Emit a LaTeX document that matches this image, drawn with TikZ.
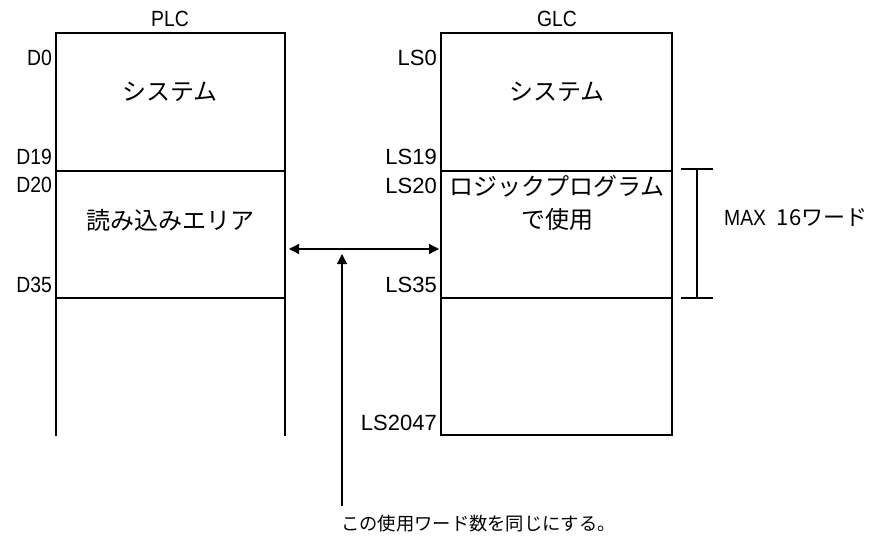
\documentclass[tikz,border=0pt]{standalone}
\usepackage{fontspec}
\setmainfont{Liberation Sans}
\newfontfamily\jp{Noto Sans CJK JP}
\newfontfamily\narrow[FakeStretch=0.88]{Liberation Sans}
\usetikzlibrary{arrows.meta}
\begin{document}
\begin{tikzpicture}[x=1pt,y=-1pt,
  box/.style={line width=2.4pt},
  lbl/.style={font=\narrow\fontsize{22}{22}\selectfont, inner sep=0pt},
  addr/.style={lbl, anchor=east},
  laddr/.style={addr, font=\fontsize{22}{22}\selectfont},
  jtxt/.style={font=\jp\fontsize{24}{33}\selectfont, inner sep=0pt, align=center},
  tip/.style={Triangle[length=10pt,width=10pt]},
  conn/.style={line width=1.3pt, -{Triangle[length=10pt,width=10pt]}},
  ]
\useasboundingbox (0,0) rectangle (878,541);
% PLC column
\coordinate (p1) at (56,436);
\coordinate (p2) at (56,33);
\coordinate (p3) at (285,33);
\coordinate (p4) at (285,436);
\draw[box] (p1) -- (p2) -- (p3) -- (p4);
\coordinate (pa) at (56,171); \coordinate (pb) at (285,171);
\coordinate (pc) at (56,298); \coordinate (pd) at (285,298);
\draw[box] (pa) -- (pb);
\draw[box] (pc) -- (pd);
% GLC column
\coordinate (g1) at (441,33);
\coordinate (g2) at (672,33);
\coordinate (g3) at (672,435);
\coordinate (g4) at (441,435);
\draw[box] (g1) -- (g2) -- (g3) -- (g4) -- cycle;
\coordinate (ga) at (441,171); \coordinate (gb) at (672,171);
\coordinate (gc) at (441,298); \coordinate (gd) at (672,298);
\draw[box] (ga) -- (gb);
\draw[box] (gc) -- (gd);
% titles
\node[lbl] (plc) at (170,19) {PLC};
\node[lbl] (glc) at (557,19) {GLC};
% addresses
\node[addr] (d0) at (52,58) {D0};
\node[addr] (d19) at (52,157) {D19};
\node[addr] (d20) at (52,185) {D20};
\node[addr] (d35) at (52,285) {D35};
\node[laddr] (ls0) at (437,58) {LS0};
\node[laddr] (ls19) at (437,157) {LS19};
\node[laddr] (ls20) at (437,186) {LS20};
\node[laddr] (ls35) at (437,285) {LS35};
\node[laddr] (ls2047) at (437,423) {LS2047};
% contents
\node[jtxt] (sys1) at (170,92) {システム};
\node[jtxt] (read) at (170,220) {読み込みエリア};
\node[jtxt] (sys2) at (557,92) {システム};
\node[jtxt] (logic) at (557,203) {ロジックプログラム\\で使用};
% double arrow
\coordinate (al) at (289,249);
\coordinate (ar) at (439,249);
\draw[line width=1.3pt, {Triangle[length=10pt,width=10pt]}-{Triangle[length=10pt,width=10pt]}] (al) -- (ar);
% pointer arrow
\coordinate (pbot) at (342,506);
\coordinate (ptop) at (342,254);
\draw[conn] (pbot) -- (ptop);
\node[jtxt, font=\jp\fontsize{18.3}{20}\selectfont, anchor=west] (note) at (341,524) {この使用ワード数を同じにする。};
% bracket
\coordinate (bt) at (697,169);
\coordinate (bb) at (697,298);
\draw[line width=1.3pt] (bt) -- (bb);
\draw[line width=1.3pt] (681,169) -- (713,169);
\draw[line width=1.3pt] (681,298) -- (713,298);
\node[anchor=west, inner sep=0pt] (max) at (724,217) {\narrow\fontsize{22}{22}\selectfont MAX\ \ \jp\fontsize{22}{22}\selectfont 16ワード};
\end{tikzpicture}
\end{document}
